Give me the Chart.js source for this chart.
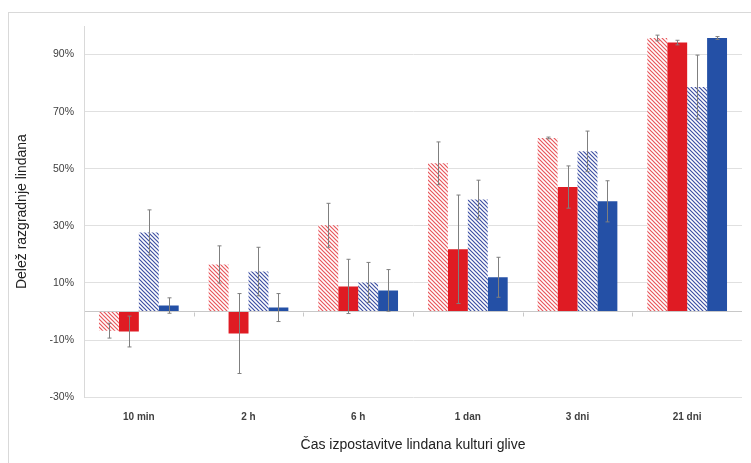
<!DOCTYPE html>
<html>
<head>
<meta charset="utf-8">
<script src="https://cdn.jsdelivr.net/npm/chart.js@4.4.1/dist/chart.umd.min.js"></script>
<style>
  html, body { margin: 0; padding: 0; background: #fff; }
  #wrap { width: 751px; height: 463px; position: relative; }
</style>
</head>
<body>
<div id="wrap"><canvas id="grafico"></canvas></div>
<script>
const categories = ["10 min", "2 h", "6 h", "1 dan", "3 dni", "21 dni"];
const yTicks = [-30, -10, 0, 10, 30, 50, 70, 90];

const redHatched = [-6.7, 16.5, 30.2, 51.9, 60.8, 95.8];
const redHatchedErr = [2.6, 6.5, 7.7, 7.5, 0.3, 1.0];
const redSolid = [-7.0, -7.7, 8.8, 21.8, 43.6, 94.2];
const redSolidErr = [5.4, 14.0, 9.5, 19.0, 7.4, 0.8];
const blueHatched = [27.7, 14.0, 10.2, 39.2, 56.1, 78.6];
const blueHatchedErr = [7.9, 8.5, 7.0, 6.8, 7.1, 11.2];
const blueSolid = [2.1, 1.4, 7.4, 12.0, 38.6, 95.8];
const blueSolidErr = [2.7, 4.9, 7.3, 7.0, 7.2, 0.5];

function hatch(color) {
  const c = document.createElement("canvas");
  c.width = 4;
  c.height = 4;
  const g = c.getContext("2d");
  g.fillStyle = "#ffffff";
  g.fillRect(0, 0, 4, 4);
  g.strokeStyle = color;
  g.lineWidth = 1.2;
  g.beginPath();
  g.moveTo(-1, -1); g.lineTo(5, 5);
  g.moveTo(-1, 3); g.lineTo(1, 5);
  g.moveTo(3, -1); g.lineTo(5, 1);
  g.stroke();
  return g.createPattern(c, "repeat");
}

// error bars drawn from the bar elements and the y scale
const errorBars = {
  id: "errorBars",
  afterDatasetsDraw(chart) {
    const ctx = chart.ctx;
    const y = chart.scales.y;
    ctx.save();
    ctx.strokeStyle = "#7f7f7f";
    ctx.lineWidth = 1;
    chart.data.datasets.forEach((ds, di) => {
      const meta = chart.getDatasetMeta(di);
      meta.data.forEach((bar, i) => {
        const v = ds.data[i];
        const e = ds.err[i];
        const x = Math.round(bar.x) + 0.5;
        const y1 = y.getPixelForValue(v + e);
        const y2 = y.getPixelForValue(v - e);
        ctx.beginPath();
        ctx.moveTo(x, y1); ctx.lineTo(x, y2);
        ctx.moveTo(x - 2, y1); ctx.lineTo(x + 2, y1);
        ctx.moveTo(x - 2, y2); ctx.lineTo(x + 2, y2);
        ctx.stroke();
      });
    });
    ctx.restore();
  }
};

// outer frame and small category separators on the zero line
const frame = {
  id: "frame",
  beforeDraw(chart) {
    const ctx = chart.ctx;
    ctx.save();
    ctx.strokeStyle = "#d9d9d9";
    ctx.lineWidth = 1;
    ctx.strokeRect(8.5, 12.5, chart.width + 10, chart.height + 10);
    ctx.restore();
  },
  afterDatasetsDraw(chart) {
    const ctx = chart.ctx;
    const x = chart.scales.x;
    const y0 = Math.round(chart.scales.y.getPixelForValue(0)) + 0.5;
    const half = (x.getPixelForValue(1) - x.getPixelForValue(0)) / 2;
    ctx.save();
    ctx.strokeStyle = "#c8c8c8";
    ctx.beginPath();
    for (let i = 0; i < categories.length - 1; i++) {
      const px = Math.round(x.getPixelForValue(i) + half) + 0.5;
      ctx.moveTo(px, y0); ctx.lineTo(px, y0 + 4);
    }
    ctx.stroke();
    ctx.restore();
  }
};

const ctx = document.getElementById("grafico").getContext("2d");
const myChart = new Chart(ctx, {
  type: "bar",
  data: {
    labels: categories,
    datasets: [
      { data: redHatched, err: redHatchedErr, backgroundColor: hatch("#e8565b") },
      { data: redSolid, err: redSolidErr, backgroundColor: "#df1b23" },
      { data: blueHatched, err: blueHatchedErr, backgroundColor: hatch("#3d4fa3") },
      { data: blueSolid, err: blueSolidErr, backgroundColor: "#2450a6" },
    ],
  },
  options: {
    responsive: true,
    maintainAspectRatio: false,
    animation: false,
    layout: { padding: { left: 10, top: 26, right: 9, bottom: 9 } },
    plugins: { legend: { display: false }, tooltip: { enabled: false } },
    datasets: { bar: { categoryPercentage: 0.727, barPercentage: 1.0, borderWidth: 0 } },
    scales: {
      x: {
        grid: { display: false, drawTicks: false },
        border: { display: false },
        ticks: {
          padding: 14,
          color: "#404040",
          font: { family: "Liberation Sans", size: 10, weight: "bold" },
        },
        title: {
          display: true,
          text: "Čas izpostavitve lindana kulturi glive",
          color: "#222",
          font: { family: "Liberation Sans", size: 14 },
          padding: { top: 0, bottom: 0 },
        },
      },
      y: {
        min: -30,
        max: 100,
        afterBuildTicks: (scale) => {
          scale.ticks = yTicks.map((v) => ({ value: v }));
        },
        afterFit: (scale) => { scale.width = 74; },
        grid: {
          drawTicks: false,
          color: (c) => (c.tick && c.tick.value === 0 ? "#c8c8c8" : "#e0e0e0"),
        },
        border: { display: true, color: "#d9d9d9" },
        ticks: {
          padding: 10,
          color: "#404040",
          font: { family: "Liberation Sans", size: 10.5 },
          callback: (v) => (v === 0 ? "" : v + "%"),
        },
        title: {
          display: true,
          text: "Delež razgradnje lindana",
          color: "#222",
          font: { family: "Liberation Sans", size: 14 },
          padding: { top: 4, bottom: 0 },
        },
      },
    },
  },
  plugins: [errorBars, frame],
});
</script>
</body>
</html>
